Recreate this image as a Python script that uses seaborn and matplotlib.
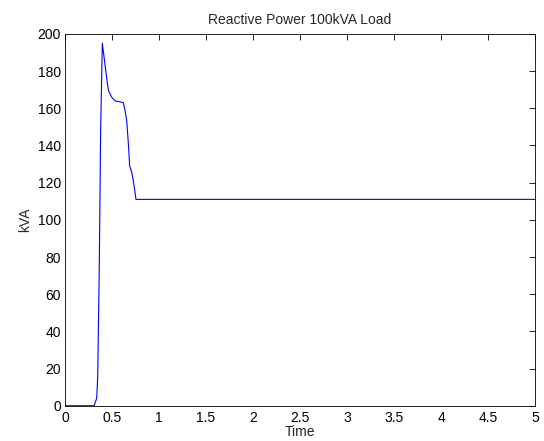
import matplotlib
matplotlib.use("Agg")
import matplotlib.pyplot as plt
import seaborn as sns
import pandas as pd

time = [0.0, 0.31, 0.337, 0.348, 0.365, 0.379, 0.397, 0.433, 0.461, 0.496, 0.532,
        0.585, 0.62, 0.638, 0.656, 0.674, 0.688, 0.709, 0.727, 0.755, 5.0]
kva = [0.0, 0.0, 4.0, 15.6, 76.5, 148.0, 195.0, 180.5, 169.7, 166.0, 164.0,
       163.5, 163.0, 159.0, 153.6, 141.0, 128.9, 125.8, 121.0, 111.0, 111.0]
xticks = [0, 0.5, 1, 1.5, 2, 2.5, 3, 3.5, 4, 4.5, 5]
xticklabels = ["0", "0.5", "1", "1.5", "2", "2.5", "3", "3.5", "4", "4.5", "5"]
yticks = [0, 20, 40, 60, 80, 100, 120, 140, 160, 180, 200]

sns.set_style("white")
plt.rcParams['font.family'] = ['Liberation Sans', 'DejaVu Sans']
plt.rcParams['font.size'] = 10

df = pd.DataFrame({"Time": time, "kVA": kva})

fig = plt.figure(figsize=(5.44, 4.41), dpi=100)
ax = fig.add_axes([0.1195, 0.080, 0.864, 0.843])
sns.lineplot(data=df, x="Time", y="kVA", ax=ax, color=(0, 0, 1), linewidth=0.8)
ax.set_xlim(0, 5)
ax.set_ylim(0, 200)
ax.set_xticks(xticks)
ax.set_xticklabels(xticklabels)
ax.set_yticks(yticks)
ax.tick_params(direction="in", top=True, right=True, length=4, width=0.6,
               labelsize=10, colors="black")
ax.tick_params(axis="x", pad=4)
ax.tick_params(axis="y", pad=3)
for s in ax.spines.values():
    s.set_visible(True)
    s.set_color("black")
    s.set_linewidth(0.6)
ax.set_xlabel("Time", fontsize=10, labelpad=0)
ax.set_ylabel("kVA", fontsize=10, labelpad=4)
ax.set_title("Reactive Power 100kVA Load", fontsize=10, pad=7)
fig.savefig("out.png", dpi=100, facecolor="white")
